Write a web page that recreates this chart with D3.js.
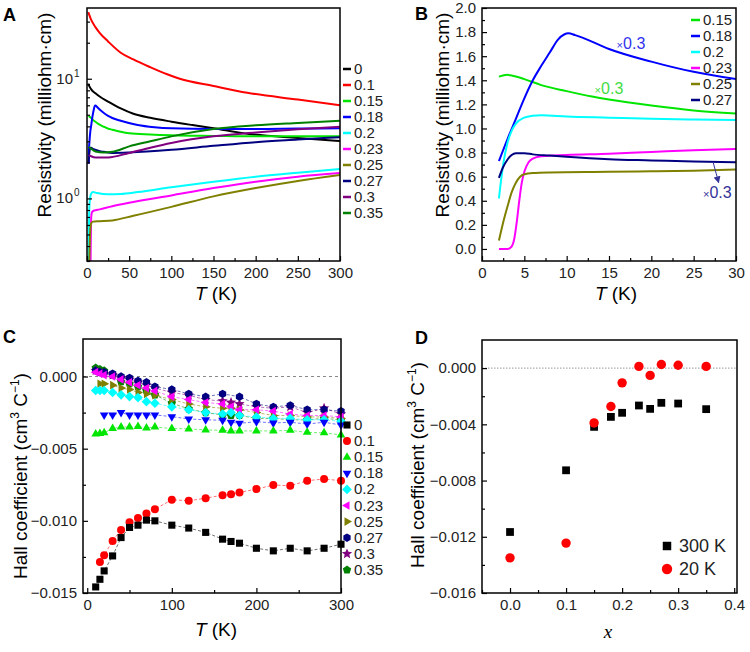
<!DOCTYPE html>
<html><head><meta charset="utf-8">
<script src="https://cdn.jsdelivr.net/npm/d3@7"></script>
<style>body{margin:0;background:#fff}</style>
</head><body>
<script>
// ---------------- Panel A: resistivity vs T (log) [T (K), milliohm·cm] ----------------
const A_0   = [[1.5,9.1],[3,8.6],[5,8.15],[10,7.55],[15,7.1],[25,6.45],[40,5.65],[55,5.1],[75,4.72],[100,4.38],[125,4.1],[150,3.85],[190,3.47],[250,3.2],[300,3.02]];
const A_01  = [[1.5,36],[5,31],[10,27],[15,24.2],[25,20.5],[40,16.5],[55,14.5],[75,12.5],[95,10.9],[110,10.0],[150,8.7],[190,7.64],[250,6.7],[300,6.0]];
const A_015 = [[2,4.77],[3,4.82],[5,4.7],[7,4.53],[10,4.37],[15,4.13],[20,3.97],[25,3.83],[30,3.75],[40,3.6],[50,3.5],[75,3.42],[100,3.37],[150,3.33],[200,3.3],[250,3.3],[300,3.3]];
const A_018 = [[1.8,1.95],[2.2,2.45],[3,3.05],[4,3.67],[5,4.07],[6,4.6],[7,5.07],[8,5.5],[9,5.87],[10,5.97],[12,5.8],[15,5.53],[20,5.17],[25,4.9],[30,4.7],[40,4.45],[60,4.1],[80,3.93],[100,3.85],[150,3.8],[200,3.8],[250,3.83],[300,3.85]];
const A_02  = [[1.5,0.2],[2,0.42],[2.5,0.7],[3,0.9],[4,1.04],[5,1.1],[7,1.13],[12,1.11],[25,1.085],[40,1.09],[60,1.13],[100,1.24],[150,1.38],[200,1.52],[250,1.64],[300,1.76]];
const A_023 = [[3,0.01],[3.5,0.02],[3.8,0.08],[4.1,0.22],[4.4,0.4],[4.7,0.55],[5,0.7],[6,0.77],[8,0.79],[15,0.81],[30,0.86],[50,0.92],[100,1.06],[150,1.22],[200,1.38],[250,1.52],[300,1.63]];
const A_025 = [[2,0.07],[2.5,0.22],[3,0.35],[3.5,0.47],[4,0.56],[5,0.62],[7,0.64],[15,0.645],[30,0.655],[55,0.716],[100,0.85],[150,1.04],[200,1.22],[250,1.4],[300,1.57]];
const A_027 = [[2,1.97],[2.5,2.27],[3,2.47],[3.5,2.6],[4,2.65],[5,2.65],[6,2.62],[8,2.58],[10,2.55],[15,2.48],[20,2.45],[30,2.4],[50,2.42],[100,2.55],[150,2.75],[200,2.95],[250,3.1],[300,3.25]];
const A_03  = [[2,2.3],[5,2.25],[10,2.2],[25,2.2],[50,2.4],[75,2.65],[100,2.9],[150,3.3],[200,3.55],[250,3.78],[300,3.97]];
const A_035 = [[2,2.7],[5,2.6],[10,2.47],[20,2.42],[30,2.45],[50,2.72],[75,3.0],[100,3.3],[150,3.8],[200,4.08],[250,4.27],[300,4.45]];
const A_labels = ["0","0.1","0.15","0.18","0.2","0.23","0.25","0.27","0.3","0.35"];
const A_xticks = [0,50,100,150,200,250,300];

// ---------------- Panel B: low-T resistivity (linear) ----------------
const B_015 = [[2,1.43],[3,1.445],[3.5,1.44],[5,1.41],[7,1.36],[10,1.31],[13,1.265],[15,1.24],[20,1.19],[25,1.15],[30,1.125]];
const B_018 = [[2,0.73],[3,0.91],[4,1.08],[5,1.25],[6,1.4],[7,1.52],[8,1.63],[9,1.74],[9.7,1.78],[10.2,1.79],[11,1.775],[12,1.75],[15,1.66],[20,1.555],[25,1.47],[30,1.41]];
const B_02  = [[2,0.42],[2.5,0.7],[3,0.88],[3.5,0.98],[4,1.04],[5,1.09],[6,1.105],[7,1.11],[10,1.10],[15,1.09],[20,1.08],[25,1.075],[30,1.07]];
const B_023 = [[2,0.0],[3,0.0],[3.5,0.02],[3.8,0.08],[4.1,0.22],[4.4,0.4],[4.7,0.55],[5,0.64],[5.5,0.72],[6,0.75],[7,0.77],[10,0.78],[15,0.79],[20,0.805],[25,0.82],[30,0.83]];
const B_025 = [[2,0.07],[2.5,0.22],[3,0.35],[3.5,0.47],[4,0.55],[4.5,0.6],[5,0.62],[6,0.63],[8,0.635],[15,0.64],[20,0.645],[25,0.65],[30,0.66]];
const B_027 = [[2,0.59],[2.5,0.68],[3,0.74],[3.5,0.78],[4,0.795],[5,0.795],[6,0.785],[8,0.775],[10,0.765],[15,0.745],[20,0.735],[25,0.725],[30,0.72]];
const B_labels = ["0.15","0.18","0.2","0.23","0.25","0.27"];
const B_xticks = [0,5,10,15,20,25,30];
const B_yticks = [0,0.2,0.4,0.6,0.8,1.0,1.2,1.4,1.6,1.8,2.0];

// ---------------- Panel C: Hall coefficient vs T ----------------
const C_T = [10,15,20,30,40,50,60,70,80,100,120,140,160,170,180,200,220,240,260,280,300];
const C_0   = [-0.01458,-0.01405,-0.01347,-0.01243,-0.01116,-0.01046,-0.0103,-0.00995,-0.0100,-0.0103,-0.0105,-0.0108,-0.01127,-0.01143,-0.01155,-0.0119,-0.01208,-0.0119,-0.01208,-0.0119,-0.01162];
const C_01  = [null,-0.01285,-0.01238,-0.01139,-0.01063,-0.0101,-0.00981,-0.00949,-0.00919,-0.00854,-0.00861,-0.00843,-0.00822,-0.00815,-0.00803,-0.0078,-0.00752,-0.00757,-0.00722,-0.0071,-0.00722];
const C_015 = [-0.00398,-0.00394,-0.0039,-0.0036,-0.0035,-0.0035,-0.00347,-0.00356,-0.0035,-0.0036,-0.00363,-0.0037,-0.00373,-0.00377,-0.00377,-0.00377,-0.00377,-0.00373,-0.00387,-0.0039,-0.00405];
const C_018 = [null,null,-0.00266,-0.00266,-0.0025,-0.00266,-0.00266,-0.00266,-0.00266,-0.00278,-0.00294,-0.003,-0.00303,-0.00317,-0.00324,-0.00313,-0.00322,-0.00317,-0.00329,-0.00317,-0.00336];
const C_02  = [-0.00097,-0.00097,-0.00097,-0.00111,-0.00127,-0.00139,-0.00146,-0.00174,-0.00185,-0.0021,-0.0023,-0.0025,-0.0026,-0.0025,-0.0027,-0.0028,-0.0029,-0.0029,-0.0030,-0.0030,-0.0031];
const C_023 = [0.0003,0.0002,0.0001,0.0000,-0.0002,-0.0004,-0.0006,-0.0008,-0.0010,-0.0014,-0.0016,-0.0018,-0.0019,-0.0021,-0.0023,-0.0023,-0.0024,-0.0026,-0.0027,-0.0027,-0.0028];
const C_025 = [null,-0.0005,-0.0005,-0.0006,-0.0008,-0.0009,-0.0011,-0.0012,-0.0013,-0.0016,-0.0019,-0.0021,-0.0022,-0.0022,-0.0023,-0.0025,-0.0027,-0.0027,-0.0028,-0.0028,-0.0029];
const C_027 = [0.0004,0.0003,0.0003,0.0002,0.0000,-0.0001,-0.0003,-0.0004,-0.0007,-0.0009,-0.0012,-0.0014,-0.0012,null,-0.0014,-0.0019,-0.0021,-0.0020,-0.0023,-0.0023,-0.0024];
const C_03  = [0.0004,0.0003,0.0002,0.0001,-0.0001,-0.0002,-0.0004,-0.0006,-0.0008,-0.0011,-0.0013,-0.0016,-0.0017,-0.0018,-0.0019,-0.0021,-0.0022,-0.0021,-0.0025,-0.0022,-0.0026];
const C_035 = [0.0006,0.0005,0.0004,0.0001,-0.00035,-0.0005,-0.0007,-0.0010,-0.00127,-0.00185,-0.00224,-0.0025,-0.00266,-0.0027,-0.0027,-0.0029,-0.0029,-0.003,-0.003,-0.0029,-0.003];
const C_labels = A_labels;
const C_xticks = [0,100,200,300];
const C_yticks = [0,-0.005,-0.010,-0.015];

// ---------------- Panel D: Hall coefficient vs x ----------------
const D_x   = [0,0.1,0.15,0.18,0.2,0.23,0.25,0.27,0.3,0.35];
const D_300 = [-0.01166,-0.00727,-0.00418,-0.00347,-0.00318,-0.00266,-0.0029,-0.00247,-0.00252,-0.00292];
const D_20  = [-0.0135,-0.01245,-0.0039,-0.00273,-0.00105,0.00012,-0.00052,0.00026,0.0002,0.00012];
const D_labels = ["300 K","20 K"];
const D_xticks = [0,0.1,0.2,0.3,0.4];
const D_yticks = [0,-0.004,-0.008,-0.012,-0.016];

// ---------------- styling ----------------
const COL = {"0":"#000000","0.1":"#ff0000","0.15":"#00e600","0.18":"#0000ff","0.2":"#00ffff",
             "0.23":"#ff00ff","0.25":"#808000","0.27":"#000080","0.3":"#800080","0.35":"#008000"};
const SHAPE = {"0":"square","0.1":"circle","0.15":"tup","0.18":"tdown","0.2":"diamond",
               "0.23":"tleft","0.25":"tright","0.27":"hex","0.3":"star","0.35":"pent"};
const FONT = "'Liberation Sans', Arial, Helvetica, sans-serif";
const TICKFS = 15, TITLEFS = 19;
const svg = d3.select("body").append("svg").attr("width",750).attr("height",652)
  .style("font-family",FONT);
const defs = svg.append("defs");

function poly(n,r,rot){
  const pts=[];
  for(let i=0;i<n;i++){const a=(rot+i*360/n)*Math.PI/180;pts.push([r*Math.cos(a),r*Math.sin(a)]);}
  return "M"+pts.map(p=>p[0].toFixed(2)+","+p[1].toFixed(2)).join("L")+"Z";
}
function star(r){
  const pts=[];
  for(let i=0;i<10;i++){const rr=i%2?r*0.45:r;const a=(-90+i*36)*Math.PI/180;pts.push([rr*Math.cos(a),rr*Math.sin(a)]);}
  return "M"+pts.map(p=>p[0].toFixed(2)+","+p[1].toFixed(2)).join("L")+"Z";
}
function shapePath(t,r){
  switch(t){
    case "square": return poly(4,r*1.25,45);
    case "circle": return d3.arc()({innerRadius:0,outerRadius:r,startAngle:0,endAngle:2*Math.PI});
    case "tup": return poly(3,r*1.25,-90);
    case "tdown": return poly(3,r*1.25,90);
    case "tleft": return poly(3,r*1.25,180);
    case "tright": return poly(3,r*1.25,0);
    case "diamond": return poly(4,r*1.2,0);
    case "hex": return poly(6,r*1.05,-90);
    case "pent": return poly(5,r*1.1,-90);
    case "star": return star(r*1.35);
  }
}
function styleAxis(g,fs){
  g.select(".domain").remove();
  g.selectAll("line").attr("stroke","#000").attr("stroke-width",1.2);
  g.selectAll("text").attr("font-family",FONT).attr("font-size",fs||TICKFS).attr("fill","#222");
}
function xAxis(x,yPos,major,minor,fmt){
  const g=svg.append("g").attr("transform",`translate(0,${yPos})`)
    .call(d3.axisBottom(x).tickValues(major).tickSize(-5).tickSizeOuter(0).tickPadding(6).tickFormat(fmt));
  styleAxis(g);
  if(minor){const m=svg.append("g").attr("transform",`translate(0,${yPos})`)
    .call(d3.axisBottom(x).tickValues(minor).tickSize(-3).tickSizeOuter(0).tickFormat(""));styleAxis(m);}
}
function yAxis(y,xPos,major,minor,fmt){
  const g=svg.append("g").attr("transform",`translate(${xPos},0)`)
    .call(d3.axisLeft(y).tickValues(major).tickSize(-5).tickSizeOuter(0).tickPadding(6).tickFormat(fmt));
  styleAxis(g);
  if(minor){const m=svg.append("g").attr("transform",`translate(${xPos},0)`)
    .call(d3.axisLeft(y).tickValues(minor).tickSize(-3).tickSizeOuter(0).tickFormat(""));styleAxis(m);}
  return g;
}
function frame(x0,x1,y0,y1){
  svg.append("rect").attr("x",x0).attr("y",y0).attr("width",x1-x0).attr("height",y1-y0)
    .attr("fill","none").attr("stroke","#000").attr("stroke-width",1.5);
}
function clip(id,x0,x1,y0,y1){
  defs.append("clipPath").attr("id",id).append("rect").attr("x",x0).attr("y",y0).attr("width",x1-x0).attr("height",y1-y0);
}
function panelLabel(t,x,y){svg.append("text").attr("x",x).attr("y",y).attr("font-size",18).attr("font-weight","bold").text(t);}
function xTitleT(cx,y){
  const t=svg.append("text").attr("x",cx).attr("y",y).attr("text-anchor","middle").attr("font-size",TITLEFS);
  t.append("tspan").attr("font-style","italic").text("T");
  t.append("tspan").text(" (K)");
}
function yTitle(txt,x,cy,hall){
  const t=svg.append("text").attr("transform",`translate(${x},${cy}) rotate(-90)`).attr("text-anchor","middle").attr("font-size",TITLEFS);
  if(!hall){t.text(txt);return;}
  t.append("tspan").text("Hall coefficient (cm");
  t.append("tspan").attr("font-size",12).attr("dy",-8).text("3");
  t.append("tspan").attr("dy",8).text(" C");
  t.append("tspan").attr("font-size",12).attr("dy",-8).text("\u22121");
  t.append("tspan").attr("dy",8).text(")");
}
const lineGen=(x,y)=>d3.line().x(d=>x(d[0])).y(d=>y(d[1])).curve(d3.curveMonotoneX);

// ================= Panel A =================
{
  const L=87,R=340,T=8,B=261;
  const x=d3.scaleLinear().domain([0,300]).range([L,R]);
  const y=d3.scaleLog().domain([0.3,39]).range([B,T]);
  clip("clipA",L,R,T,B);
  const series=[A_0,A_01,A_015,A_018,A_02,A_023,A_025,A_027,A_03,A_035];
  const g=svg.append("g").attr("clip-path","url(#clipA)");
  series.forEach((s,i)=>{
    g.append("path").attr("d",lineGen(x,y)(s)).attr("fill","none")
      .attr("stroke",COL[A_labels[i]]).attr("stroke-width",2);
  });
  xAxis(x,B,A_xticks,[25,75,125,175,225,275],d3.format("d"));
  const minor=[];
  [0.1,1,10].forEach(d=>{for(let k=2;k<=9;k++){const v=d*k;if(v>=0.3&&v<=39)minor.push(v);}});
  yAxis(y,L,[1,10],minor,()=>"");
  [[10,"1"],[1,"0"]].forEach(([v,e])=>{
    svg.append("text").attr("x",L-14).attr("y",y(v)+5).attr("text-anchor","end")
      .attr("font-size",TICKFS).attr("fill","#222").text("10");
    svg.append("text").attr("x",L-13).attr("y",y(v)-2).attr("font-size",10).attr("fill","#222").text(e);
  });
  frame(L,R,T,B);
  A_labels.forEach((lab,i)=>{
    const yy=69+i*16;
    svg.append("line").attr("x1",343).attr("x2",351).attr("y1",yy).attr("y2",yy)
      .attr("stroke",COL[lab]).attr("stroke-width",2.5);
    svg.append("text").attr("x",354).attr("y",yy+5).attr("font-size",15).attr("fill","#222").text(lab);
  });
  panelLabel("A",3,21);
  yTitle("Resistivity (milliohm\u00b7cm)",51,115);
  xTitleT(216,300);
}

// ================= Panel B =================
{
  const L=482,R=736,T=8,B=261;
  const x=d3.scaleLinear().domain([0,30]).range([L,R]);
  const y=d3.scaleLinear().domain([-0.1,2.0]).range([B,T]);
  clip("clipB",L,R,T,B);
  const series=[B_015,B_018,B_02,B_023,B_025,B_027];
  const g=svg.append("g").attr("clip-path","url(#clipB)");
  series.forEach((s,i)=>{
    g.append("path").attr("d",lineGen(x,y)(s)).attr("fill","none")
      .attr("stroke",COL[B_labels[i]]).attr("stroke-width",2);
  });
  xAxis(x,B,B_xticks,[2.5,7.5,12.5,17.5,22.5,27.5],d3.format("d"));
  yAxis(y,L,B_yticks,[0.1,0.3,0.5,0.7,0.9,1.1,1.3,1.5,1.7,1.9],d3.format(".1f"));
  frame(L,R,T,B);
  B_labels.forEach((lab,i)=>{
    const yy=20+i*16;
    svg.append("line").attr("x1",691).attr("x2",700).attr("y1",yy).attr("y2",yy)
      .attr("stroke",COL[lab]).attr("stroke-width",2.5);
    svg.append("text").attr("x",703).attr("y",yy+5).attr("font-size",15).attr("fill","#222").text(lab);
  });
  const ann=[[15.9,1.66,"#3333ee"],[13.3,1.29,"#44dd44"],[26.1,0.42,"#333399"]];
  ann.forEach(([xv,yv,c])=>{
    const t=svg.append("text").attr("x",x(xv)).attr("y",y(yv)).attr("fill",c).attr("font-size",16);
    t.append("tspan").attr("font-size",11).text("\u00d7");
    t.append("tspan").text("0.3");
  });
  defs.append("marker").attr("id","arr").attr("viewBox","0 0 10 10").attr("refX",9).attr("refY",5)
    .attr("markerWidth",7).attr("markerHeight",7).attr("orient","auto")
    .append("path").attr("d","M0,0L10,5L0,10Z").attr("fill","#333399");
  svg.append("line").attr("x1",x(27.3)).attr("y1",y(0.72)).attr("x2",x(27.95)).attr("y2",y(0.55))
    .attr("stroke","#333399").attr("stroke-width",1).attr("marker-end","url(#arr)");
  panelLabel("B",415,20);
  yTitle("Resistivity (milliohm\u00b7cm)",449,115);
  xTitleT(616,300);
}

// ================= Panel C =================
{
  const L=83,R=341,T=339,B=593;
  const x=d3.scaleLinear().domain([-5,300]).range([L,R]);
  const y=d3.scaleLinear().domain([-0.015,0.0026]).range([B,T]);
  svg.append("line").attr("x1",L).attr("x2",R).attr("y1",y(0)).attr("y2",y(0))
    .attr("stroke","#888").attr("stroke-width",1).attr("stroke-dasharray","3,3");
  const series=[C_0,C_01,C_015,C_018,C_02,C_023,C_025,C_027,C_03,C_035];
  series.map((s,i)=>[s,i]).reverse().forEach(([s,i])=>{
    const lab=C_labels[i];
    const pts=C_T.map((t,k)=>[t,s[k]]).filter(d=>d[1]!==null);
    svg.append("path").attr("d",d3.line().x(d=>x(d[0])).y(d=>y(d[1]))(pts)).attr("fill","none")
      .attr("stroke",COL[lab]).attr("stroke-opacity",0.7).attr("stroke-width",0.8).attr("stroke-dasharray","3,2");
    svg.append("g").selectAll("path").data(pts).join("path")
      .attr("transform",d=>`translate(${x(d[0])},${y(d[1])})`)
      .attr("d",shapePath(SHAPE[lab],4)).attr("fill",COL[lab]);
  });
  xAxis(x,B,C_xticks,[50,150,250],d3.format("d"));
  yAxis(y,L,C_yticks,[-0.0025,-0.0075,-0.0125],d3.format(".3f"));
  frame(L,R,T,B);
  C_labels.forEach((lab,i)=>{
    const yy=425+i*16.1;
    svg.append("path").attr("transform",`translate(347,${yy})`).attr("d",shapePath(SHAPE[lab],4)).attr("fill",COL[lab]);
    svg.append("text").attr("x",354).attr("y",yy+5).attr("font-size",15).attr("fill","#222").text(lab);
  });
  panelLabel("C",3,343);
  yTitle("",27,476,true);
  xTitleT(216,636);
}

// ================= Panel D =================
{
  const L=482,R=737,T=340,B=593;
  const x=d3.scaleLinear().domain([-0.05,0.405]).range([L,R]);
  const y=d3.scaleLinear().domain([-0.016,0.002]).range([B,T]);
  svg.append("line").attr("x1",L).attr("x2",R).attr("y1",y(0)).attr("y2",y(0))
    .attr("stroke","#999").attr("stroke-width",1).attr("stroke-dasharray","1.5,1.5");
  svg.append("g").selectAll("path").data(D_x.map((v,i)=>[v,D_300[i]])).join("path")
    .attr("transform",d=>`translate(${x(d[0])},${y(d[1])})`).attr("d",shapePath("square",4.4)).attr("fill","#000");
  svg.append("g").selectAll("path").data(D_x.map((v,i)=>[v,D_20[i]])).join("path")
    .attr("transform",d=>`translate(${x(d[0])},${y(d[1])})`).attr("d",shapePath("circle",4.7)).attr("fill","#ff0000");
  xAxis(x,B,D_xticks,[-0.05,0.05,0.15,0.25,0.35],d3.format(".1f"));
  yAxis(y,L,D_yticks,[-0.002,-0.006,-0.010,-0.014],d3.format(".3f"));
  frame(L,R,T,B);
  svg.append("path").attr("transform","translate(667,546)").attr("d",shapePath("square",4.8)).attr("fill","#000");
  svg.append("path").attr("transform","translate(667,569)").attr("d",shapePath("circle",5.2)).attr("fill","#ff0000");
  svg.append("text").attr("x",679).attr("y",552).attr("font-size",18).attr("fill","#222").text(D_labels[0]);
  svg.append("text").attr("x",679).attr("y",575).attr("font-size",18).attr("fill","#222").text(D_labels[1]);
  panelLabel("D",415,344);
  yTitle("",424,465,true);
  svg.append("text").attr("x",608).attr("y",638).attr("text-anchor","middle")
    .attr("font-family","'Liberation Serif', 'Times New Roman', serif").attr("font-style","italic")
    .attr("font-size",19).text("x");
}
</script>
</body></html>
